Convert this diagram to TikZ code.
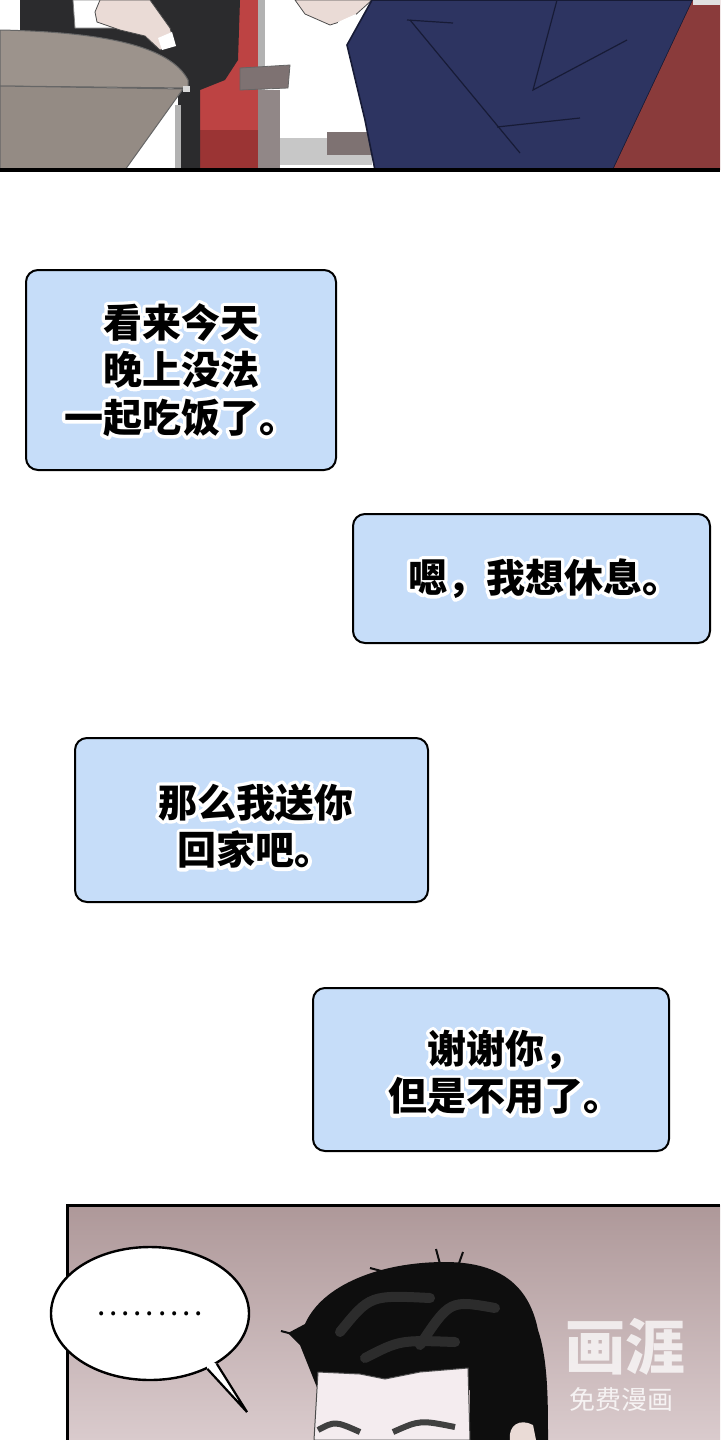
\documentclass[tikz,border=0pt]{standalone}
\usepackage{fontspec}
\newfontfamily\cjk{Noto Sans CJK SC}
\usetikzlibrary{shapes.geometric,calc}
\definecolor{boxblue}{HTML}{C6DDF9}
\definecolor{suitblack}{HTML}{2B2B2D}
\definecolor{tabletop}{HTML}{9C938C}
\definecolor{tablefront}{HTML}{948B84}
\definecolor{chairred}{HTML}{BD4343}
\definecolor{chairdark}{HTML}{9B3434}
\definecolor{armgray}{HTML}{7E7272}
\definecolor{navy}{HTML}{2D3461}
\definecolor{navyline}{HTML}{171B36}
\definecolor{chairwine}{HTML}{8A3B3B}
\definecolor{skin}{HTML}{EADBD6}
\definecolor{hairblack}{HTML}{0E0E0E}
\definecolor{faceskin}{HTML}{F4ECEF}
\definecolor{bgtop}{HTML}{AE9899}
\definecolor{bgbottom}{HTML}{DACBCD}
\newcommand{\halo}[1]{\rlap{\special{pdf:literal direct 1 Tr 3.4 w 1 j 1 1 1 RG}#1\special{pdf:literal direct 0 Tr}}#1}
\newcommand{\dotgap}{\makebox[6.1pt]{.}}
\begin{document}
\begin{tikzpicture}[x=.5pt,y=-.5pt,
	talkbox/.style={draw=black,line width=1pt,fill=boxblue,rounded corners=6pt,inner sep=0pt},
	talk/.style={font=\cjk\bfseries\fontsize{19.5}{23.75}\selectfont,align=center,inner sep=0pt},
	fold/.style={navyline,line width=.6pt}]
		\useasboundingbox (0,0) rectangle (720,1440);
		\fill[white] (0,0) rectangle (720,1440);
		
		% top panel
		\fill[chairred] (195,0) rectangle (262,170); \fill[chairdark] (195,130) rectangle (262,170);
		\fill[black!30] (258,0) rectangle (265,170);
		\fill[suitblack] (20,0) -- (240,0) -- (238,60) -- (225,80) -- (200,90) -- (200,170) -- (178,170) -- (178,90) -- (20,40) -- cycle;
		\filldraw[white,draw=black!50,line width=.4pt] (73,0) -- (145,0) -- (145,28) -- (75,28) -- cycle;
		\filldraw[skin,draw=black!70,line width=.4pt] (100,0) -- (150,0) -- (170,28) -- (175,45) -- (160,50) -- (145,36) -- (120,30) -- (97,22) -- (95,12) -- cycle;
		\fill[white] (158,38) -- (172,32) -- (176,46) -- (162,50) -- cycle;
		\filldraw[tabletop,draw=black!60,line width=.5pt] (0,30) .. controls (100,32) and (170,45) .. (188,80) -- (188,88) -- (0,86) -- cycle;
		\filldraw[tablefront,draw=black!60,line width=.5pt] (0,86) -- (183,89) -- (125,170) -- (0,170) -- cycle;
		\fill[black!15] (183,86) rectangle (190,92);
		\fill[black!30] (175,105) rectangle (181,170);
		\filldraw[armgray,draw=black!60,line width=.4pt] (240,68) -- (290,65) -- (288,88) -- (240,90) -- cycle;
		\fill[armgray!85] (258,90) rectangle (280,170);
		\fill[black!22] (280,138) rectangle (372,165); \fill[armgray] (327,132) rectangle (372,155);
		\filldraw[skin,draw=black!70,line width=.4pt] (295,0) -- (372,0) -- (352,18) -- (330,25) -- (305,14) -- cycle;
		\fill[white] (338,22) -- (356,14) -- (360,50) -- (348,60) -- cycle;
		\filldraw[navy,draw=navyline,line width=.8pt] (372,0) -- (693,0) -- (613,170) -- (375,170) -- (365,120) -- (347,45) -- cycle;
		\fill[chairwine] (693,0) -- (720,0) -- (720,170) -- (613,170) -- cycle;
		\fill[black!12] (693,0) rectangle (720,5);
		\draw[fold] (407,20) -- (453,23);
		\draw[fold] (410,20) -- (520,153);
		\draw[fold] (557,0) -- (533,90) -- (627,40);
		\draw[fold] (497,127) -- (580,118);
		\draw[line width=2pt] (0,170) -- (720,170);
		
		% talk boxes
		\node[talkbox,minimum width=155pt,minimum height=100pt] (tonight) at (181,370) {};
		\node[talk] (tonighttext) at (tonight.center) {\halo{看来今天}\\\halo{晚上没法}\\\halo{一起吃饭了。}};
		
		\node[talkbox,minimum width=178.5pt,minimum height=64.5pt] (rest) at (531.5,578.5) {};
		\node[talk] (resttext) at ([xshift=6.5pt]rest.center) {\halo{嗯，我想休息。}};
		
		\node[talkbox,minimum width=176.5pt,minimum height=82pt] (ride) at (251.5,820) {};
		\node[talk] (ridetext) at ([xshift=2pt,yshift=-3pt]ride.center) {\halo{那么我送你}\\\halo{回家吧。}};
		
		\node[talkbox,minimum width=178pt,minimum height=81.5pt] (thanks) at (491,1069.5) {};
		\node[talk] (thankstext) at ([xshift=7pt,yshift=-1.5pt]thanks.center) {\halo{谢谢你，}\\\halo{但是不用了。}};
		
		% bottom panel
		\shade[top color=bgtop,bottom color=bgbottom] (67,1205) rectangle (720,1440);
		\fill[hairblack] (318,1390) -- (300,1345) -- (288,1333) -- (305,1324) .. controls (322,1285) and (380,1262) .. (445,1262) .. controls (505,1262) and (530,1290) .. (538,1330) .. controls (548,1360) and (548,1400) .. (548,1440) -- (470,1440) -- (470,1390) -- cycle;
		\draw[hairblack,line width=1pt] (440,1264) -- (436,1249) (458,1266) -- (463,1252) (300,1336) -- (281,1331) (385,1272) -- (370,1268);
		\draw[black!60,line width=5pt,opacity=.35,line cap=round] (340,1332) .. controls (370,1295) .. (430,1298) (420,1345) .. controls (450,1300) .. (495,1308) (365,1358) .. controls (400,1340) .. (455,1342);
		\filldraw[faceskin,draw=black!70,line width=.5pt] (318,1372) -- (360,1374) -- (385,1379) -- (420,1372) -- (468,1368) -- (470,1440) -- (314,1440) -- cycle;
		\fill[skin] (510,1440) .. controls (508,1425) and (520,1418) .. (533,1425) -- (536,1440) -- cycle;
		\draw[black!75,line width=3pt] (318,1430) .. controls (335,1421) .. (360,1432) (393,1432) .. controls (420,1420) .. (455,1427);
		\draw[line width=1.5pt] (67,1440) -- (67,1205) -- (720,1205);
		
		\node[ellipse,draw,line width=1.2pt,fill=white,minimum width=99pt,minimum height=66.5pt,inner sep=0pt,font=\cjk\fontsize{15}{15}\selectfont] (dots) at (150,1313.5) {\dotgap\dotgap\dotgap\dotgap\dotgap\dotgap\dotgap\dotgap\dotgap};
		\coordinate (tailtip) at (247,1412);
		\fill[white] (dots.-44) -- (tailtip) -- (dots.-37) -- ($(dots.-40)!5pt!(dots.center)$) -- cycle;
		\draw[line width=1.1pt] (dots.-44) -- (tailtip) -- (dots.-37);
		
		\node[font=\cjk\bfseries\fontsize{30}{30}\selectfont,text=white,opacity=.75] (logo) at (625,1347) {画涯};
		\node[font=\cjk\fontsize{13}{13}\selectfont,text=white,opacity=.8] (logosub) at (621,1400) {免费漫画};
\end{tikzpicture}
\end{document}
